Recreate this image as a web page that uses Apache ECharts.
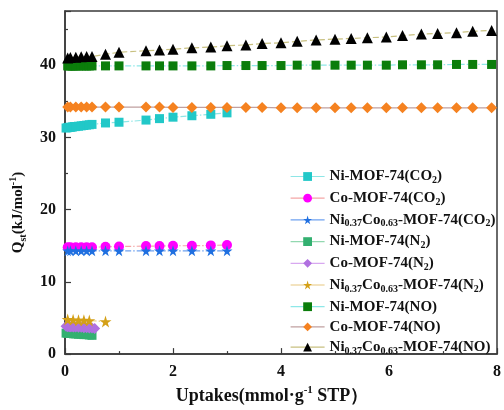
<!DOCTYPE html>
<html><head><meta charset="utf-8">
<script src="https://cdn.jsdelivr.net/npm/echarts@6/dist/echarts.min.js"></script>
<style>html,body{margin:0;padding:0;background:#fff}#c{width:504px;height:410px}</style>
</head><body><div id="c"></div>
<script>
// ---- data ----
const seriesNames = ['Ni-MOF-74(CO2)','Co-MOF-74(CO2)','Ni0.37Co0.63-MOF-74(CO2)','Ni-MOF-74(N2)','Co-MOF-74(N2)','Ni0.37Co0.63-MOF-74(N2)','Ni-MOF-74(NO)','Co-MOF-74(NO)','Ni0.37Co0.63-MOF-74(NO)'];
const xNiCO2 = [0.02,0.05,0.08,0.11,0.14,0.17,0.2,0.25,0.3,0.35,0.4,0.45,0.5,0.75,1.0,1.5,1.75,2.0,2.35,2.7,3.0];
const niCO2 = [31.3,31.35,31.4,31.4,31.45,31.5,31.5,31.55,31.6,31.65,31.7,31.75,31.8,32.0,32.1,32.4,32.6,32.8,33.0,33.2,33.4];
const xCO2 = [0.05,0.1,0.2,0.3,0.4,0.5,0.75,1.0,1.5,1.75,2.0,2.35,2.7,3.0];
const coCO2 = [14.8,14.8,14.8,14.8,14.8,14.8,14.85,14.9,14.95,14.95,15.0,15.0,15.05,15.1];
const nicoCO2 = [14.3,14.3,14.3,14.3,14.3,14.3,14.3,14.3,14.3,14.3,14.3,14.3,14.3,14.3];
const xNiN2 = [0.02,0.05,0.08,0.1,0.13,0.16,0.2,0.25,0.3,0.35,0.4,0.45,0.5];
const niN2 = [2.9,2.9,2.85,2.85,2.85,2.8,2.8,2.75,2.75,2.7,2.7,2.65,2.6];
const xCoN2 = [0.02,0.05,0.08,0.1,0.13,0.16,0.2,0.25,0.3,0.35,0.4,0.45,0.5,0.55];
const coN2 = [3.85,3.8,3.8,3.8,3.8,3.75,3.75,3.7,3.7,3.65,3.65,3.6,3.6,3.55];
const xNiCoN2 = [0.05,0.15,0.25,0.35,0.45,0.75];
const nicoN2 = [4.8,4.75,4.7,4.7,4.65,4.5];
const xNiNO = [0.05,0.08,0.11,0.14,0.17,0.2,0.25,0.3,0.35,0.4,0.45,0.5,0.75,1.0,1.5,1.75,2.0,2.35,2.7,3.0,3.35,3.65,4.0,4.3,4.65,5.0,5.3,5.6,5.95,6.25,6.6,6.9,7.25,7.55,7.9];
const niNO = [39.9,39.9,39.9,39.9,39.9,39.9,39.9,39.9,39.9,39.9,39.9,39.9,39.9,39.9,39.9,39.9,39.9,39.9,39.9,39.95,39.95,39.95,39.95,40.0,40.0,40.0,40.0,40.0,40.0,40.05,40.05,40.05,40.1,40.1,40.1];
const xNO = [0.05,0.1,0.2,0.3,0.4,0.5,0.75,1.0,1.5,1.75,2.0,2.35,2.7,3.0,3.35,3.65,4.0,4.3,4.65,5.0,5.3,5.6,5.95,6.25,6.6,6.9,7.25,7.55,7.9];
const coNO = [34.2,34.2,34.2,34.2,34.2,34.2,34.2,34.2,34.2,34.2,34.15,34.15,34.15,34.15,34.15,34.15,34.1,34.1,34.1,34.1,34.1,34.1,34.1,34.1,34.1,34.1,34.1,34.1,34.1];
const nicoNO = [41.0,41.05,41.1,41.15,41.2,41.2,41.5,41.8,42.0,42.1,42.2,42.4,42.5,42.7,42.8,43.0,43.1,43.3,43.5,43.6,43.7,43.8,43.9,44.1,44.3,44.4,44.5,44.7,44.8];
const xTicks = [0,2,4,6,8];
const yTicks = [0,10,20,30,40];

const legendRich = {
  'Ni-MOF-74(CO2)': '{b|Ni-MOF-74(CO}{s|2}{b|)}',
  'Co-MOF-74(CO2)': '{b|Co-MOF-74(CO}{s|2}{b|)}',
  'Ni0.37Co0.63-MOF-74(CO2)': '{b|Ni}{s|0.37}{b|Co}{s|0.63}{b|-MOF-74(CO}{s|2}{b|)}',
  'Ni-MOF-74(N2)': '{b|Ni-MOF-74(N}{s|2}{b|)}',
  'Co-MOF-74(N2)': '{b|Co-MOF-74(N}{s|2}{b|)}',
  'Ni0.37Co0.63-MOF-74(N2)': '{b|Ni}{s|0.37}{b|Co}{s|0.63}{b|-MOF-74(N}{s|2}{b|)}',
  'Ni-MOF-74(NO)': '{b|Ni-MOF-74(NO)}',
  'Co-MOF-74(NO)': '{b|Co-MOF-74(NO)}',
  'Ni0.37Co0.63-MOF-74(NO)': '{b|Ni}{s|0.37}{b|Co}{s|0.63}{b|-MOF-74(NO)}'
};

const STAR = 'path://M50,0 L61,35 L98,35 L68,57 L79,91 L50,70 L21,91 L32,57 L2,35 L39,35 Z';
const FONT = 'Liberation Serif';
const dashDot = [6,2,1.5,2];

function pairs(xs, ys){ return xs.map((x,i)=>[x, ys[i]]); }
function mk(name, xs, ys, symbol, size, mColor, lColor, lType){
  return {
    name, type:'line', data: pairs(xs, ys), symbol, symbolSize: size,
    itemStyle:{color:mColor}, lineStyle:{color:lColor, width:1.2, type:lType},
    emphasis:{disabled:true}, animation:false
  };
}

const series = [
  mk(seriesNames[0], xNiCO2, niCO2, 'rect', 9, '#22c8c8', '#8ee6e6', dashDot),
  mk(seriesNames[1], xCO2, coCO2, 'circle', 10, '#ff00ff', '#f4a6a6', dashDot),
  mk(seriesNames[2], xCO2, nicoCO2, STAR, 11, '#1f6fe0', '#6fa2f0', dashDot),
  mk(seriesNames[3], xNiN2, niN2, 'rect', 9, '#33b070', '#92d8b0', 'solid'),
  mk(seriesNames[4], xCoN2, coN2, 'diamond', 11, '#b070e0', '#d8a8f0', 'solid'),
  mk(seriesNames[5], xNiCoN2, nicoN2, STAR, 12, '#d4a017', '#e8c880', dashDot),
  mk(seriesNames[6], xNiNO, niNO, 'rect', 9, '#0b7d0b', '#8ee8e8', dashDot),
  mk(seriesNames[7], xNO, coNO, 'diamond', 11, '#f58220', '#c0a0a0', 'solid'),
  mk(seriesNames[8], xNO, nicoNO, 'triangle', 11, '#000000', '#c8c080', [6,3])
];

const chart = echarts.init(document.getElementById('c'), null, {renderer:'canvas'});
chart.setOption({
  backgroundColor:'#fff',
  animation:false,
  grid:{left:62, right:3, top:11, bottom:46, show:true, borderColor:'#3a3a3a', borderWidth:1.5, backgroundColor:'transparent'},
  legend:{
    orient:'vertical', left:285, top:164, itemWidth:34, itemHeight:11, itemGap:5.2,
    data: seriesNames,
    lineStyle:{type:'solid', width:1.2},
    formatter: n => legendRich[n],
    textStyle:{fontFamily:FONT, fontWeight:'bold', fontSize:15, color:'#111',
      rich:{
        b:{fontFamily:FONT, fontWeight:'bold', fontSize:15, color:'#111', lineHeight:18, verticalAlign:'middle'},
        s:{fontFamily:FONT, fontWeight:'bold', fontSize:10, color:'#111', lineHeight:10, verticalAlign:'bottom'}
      }}
  },
  xAxis:{
    type:'value', min:0, max:8, interval:2,
    name:'{b|Uptakes(mmol·g}{p|-1}{b| STP）}', nameLocation:'middle', nameGap:25,
    nameTextStyle:{padding:[0,18,0,0], rich:{
      b:{fontFamily:FONT, fontWeight:'bold', fontSize:18, color:'#111', lineHeight:22, verticalAlign:'middle'},
      p:{fontFamily:FONT, fontWeight:'bold', fontSize:11, color:'#111', lineHeight:11, verticalAlign:'top'}
    }},
    axisLine:{show:true, lineStyle:{color:'#3a3a3a', width:1.5}},
    axisTick:{show:true, inside:true, length:6, lineStyle:{color:'#3a3a3a', width:1.2}},
    minorTick:{show:true, splitNumber:2, length:3, lineStyle:{color:'#3a3a3a', width:1.2}},
    splitLine:{show:false},
    axisLabel:{fontFamily:FONT, fontWeight:'bold', fontSize:16, color:'#111', margin:10,
      formatter: v => xTicks.includes(v) ? String(v) : ''}
  },
  yAxis:{
    type:'value', min:0, max:47.5, interval:10,
    name:'{b|Q}{s|st}{b|(kJ/mol}{p|-1}{b|)}', nameLocation:'middle', nameGap:37,
    nameTextStyle:{padding:[0,60,0,0], rich:{
      b:{fontFamily:FONT, fontWeight:'bold', fontSize:15, color:'#111', lineHeight:20, verticalAlign:'middle'},
      s:{fontFamily:FONT, fontWeight:'bold', fontSize:10, color:'#111', lineHeight:10, verticalAlign:'bottom'},
      p:{fontFamily:FONT, fontWeight:'bold', fontSize:10, color:'#111', lineHeight:10, verticalAlign:'top'}
    }},
    axisLine:{show:true, lineStyle:{color:'#3a3a3a', width:1.5}},
    axisTick:{show:true, inside:true, length:6, lineStyle:{color:'#3a3a3a', width:1.2}},
    minorTick:{show:true, splitNumber:2, length:3, lineStyle:{color:'#3a3a3a', width:1.2}},
    splitLine:{show:false},
    axisLabel:{fontFamily:FONT, fontWeight:'bold', fontSize:16, color:'#111', margin:9, showMaxLabel:false,
      formatter: v => yTicks.includes(v) ? String(v) : ''}
  },
  series
});
</script></body></html>
